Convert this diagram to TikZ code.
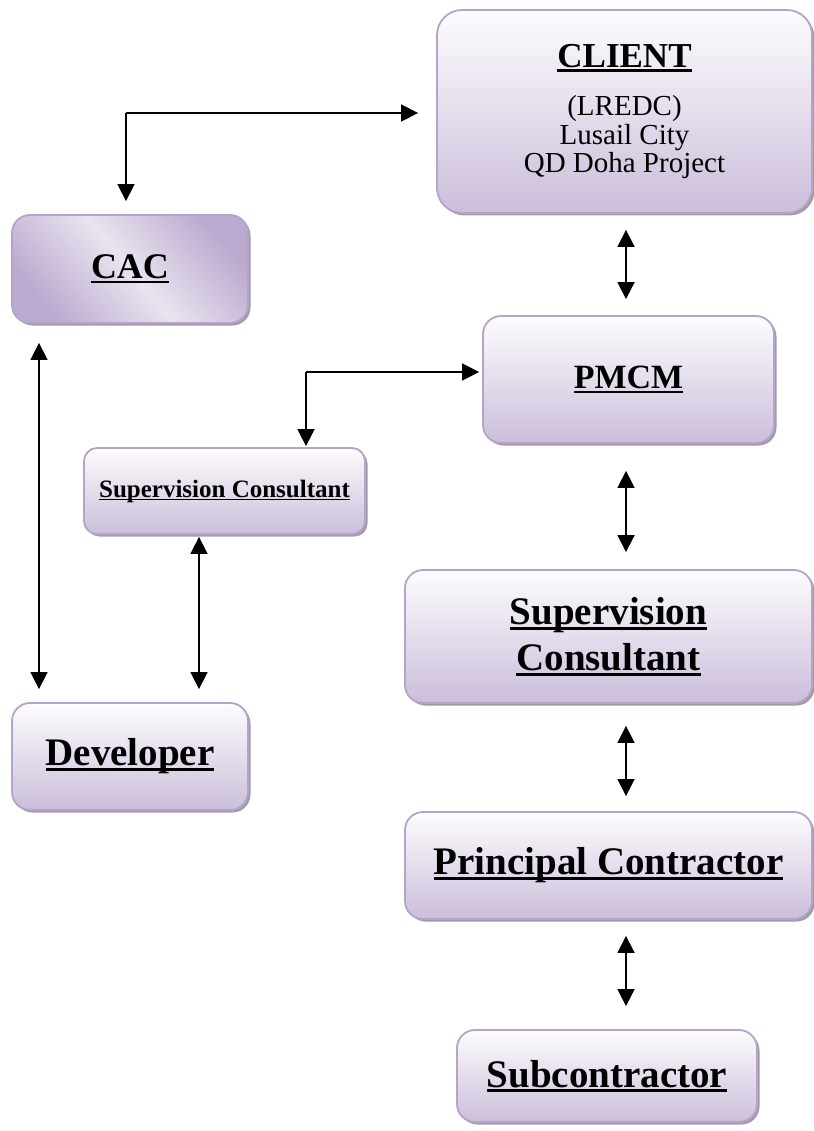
\documentclass[tikz,border=0pt]{standalone}
\usepackage{fontspec}
\setmainfont{Liberation Serif}
\usetikzlibrary{arrows.meta,shadows,calc}
\definecolor{boxedge}{HTML}{B5A4CA}
\definecolor{boxtop}{HTML}{FDFCFE}
\definecolor{boxbot}{HTML}{CBBEDA}
\definecolor{cacdark}{HTML}{BBAAD0}
\definecolor{caclight}{HTML}{E9E4EF}
\definecolor{shadowc}{HTML}{A29AAB}
\newcommand\myul[1]{\setbox0\hbox{#1}\rlap{\rule[-0.13em]{\wd0}{0.07em}}\box0}
\begin{document}
\begin{tikzpicture}[x=1pt,y=-1pt,
  box/.style={draw=boxedge, line width=1.8pt, top color=boxtop, bottom color=boxbot,
    rounded corners=18pt, align=center, inner sep=0pt,
    drop shadow={shadow xshift=2.5pt, shadow yshift=-2.5pt, fill=shadowc, opacity=1}},
  arr/.style={line width=1.6pt, -{Triangle[length=17pt,width=17pt]}},
  dbl/.style={line width=1.6pt, {Triangle[length=17pt,width=17pt]}-{Triangle[length=17pt,width=17pt]}},
  big/.style={font=\fontsize{39}{46}\selectfont\bfseries}]
\useasboundingbox (0,0) rectangle (813,1131);

\node[box, minimum width=375pt, minimum height=203pt, rounded corners=25pt,
  font=\fontsize{29}{28.5}\selectfont] (client) at (624.5,111.5)
  {{\fontsize{35}{35}\selectfont\bfseries\myul{CLIENT}}\\[20pt](LREDC)\\Lusail City\\QD Doha Project};

\node[box, minimum width=236pt, minimum height=108pt, top color=cacdark, bottom color=cacdark,
  middle color=caclight, shading angle=-50, font=\fontsize{36}{40}\selectfont\bfseries] (cac) at (130,269) {\myul{CAC}};

\node[box, minimum width=291pt, minimum height=127pt, font=\fontsize{34}{40}\selectfont\bfseries] (pmcm) at (628.5,379.5) {\myul{PMCM}};

\node[box, minimum width=281pt, minimum height=86pt, rounded corners=13pt,
  font=\fontsize{25}{30}\selectfont\bfseries] (scs) at (224.5,491) {\myul{Supervision Consultant}};

\node[box, minimum width=407pt, minimum height=133pt, big] (scb) at (608.5,636.5) {\myul{Supervision}\\\myul{Consultant}};

\node[box, minimum width=236pt, minimum height=107pt, big] (dev) at (130,756.5) {\myul{Developer}};

\node[box, minimum width=407pt, minimum height=107pt, big] (pc) at (608.5,865.5) {\myul{Principal Contractor}};

\node[box, minimum width=300pt, minimum height=92pt, big] (sub) at (607,1076) {\myul{Subcontractor}};

\coordinate (c1) at (126,113);
\coordinate (c2) at (306,372);
\coordinate (xr) at (626,0);
\coordinate (xl) at (39,0);
\coordinate (xm) at (199,0);

\draw[arr, shorten >=18pt] (c1) -- (client.west |- c1);
\draw[arr, shorten >=13pt] (c1) -- (cac.north -| c1);
\draw[dbl, shorten <=16pt, shorten >=16pt] (client.south -| xr) -- (pmcm.north -| xr);
\draw[dbl, shorten <=19pt, shorten >=13pt] (cac.south -| xl) -- (dev.north -| xl);
\draw[arr, shorten >=3pt] (c2) -- (pmcm.west |- c2);
\draw[arr, shorten >=1pt] (c2) -- (scs.north -| c2);
\draw[dbl, shorten <=2pt, shorten >=13pt] (scs.south -| xm) -- (dev.north -| xm);
\draw[dbl, shorten <=27pt, shorten >=17pt] (pmcm.south -| xr) -- (scb.north -| xr);
\draw[dbl, shorten <=22pt, shorten >=15pt] (scb.south -| xr) -- (pc.north -| xr);
\draw[dbl, shorten <=16pt, shorten >=23pt] (pc.south -| xr) -- (sub.north -| xr);
\end{tikzpicture}
\end{document}
